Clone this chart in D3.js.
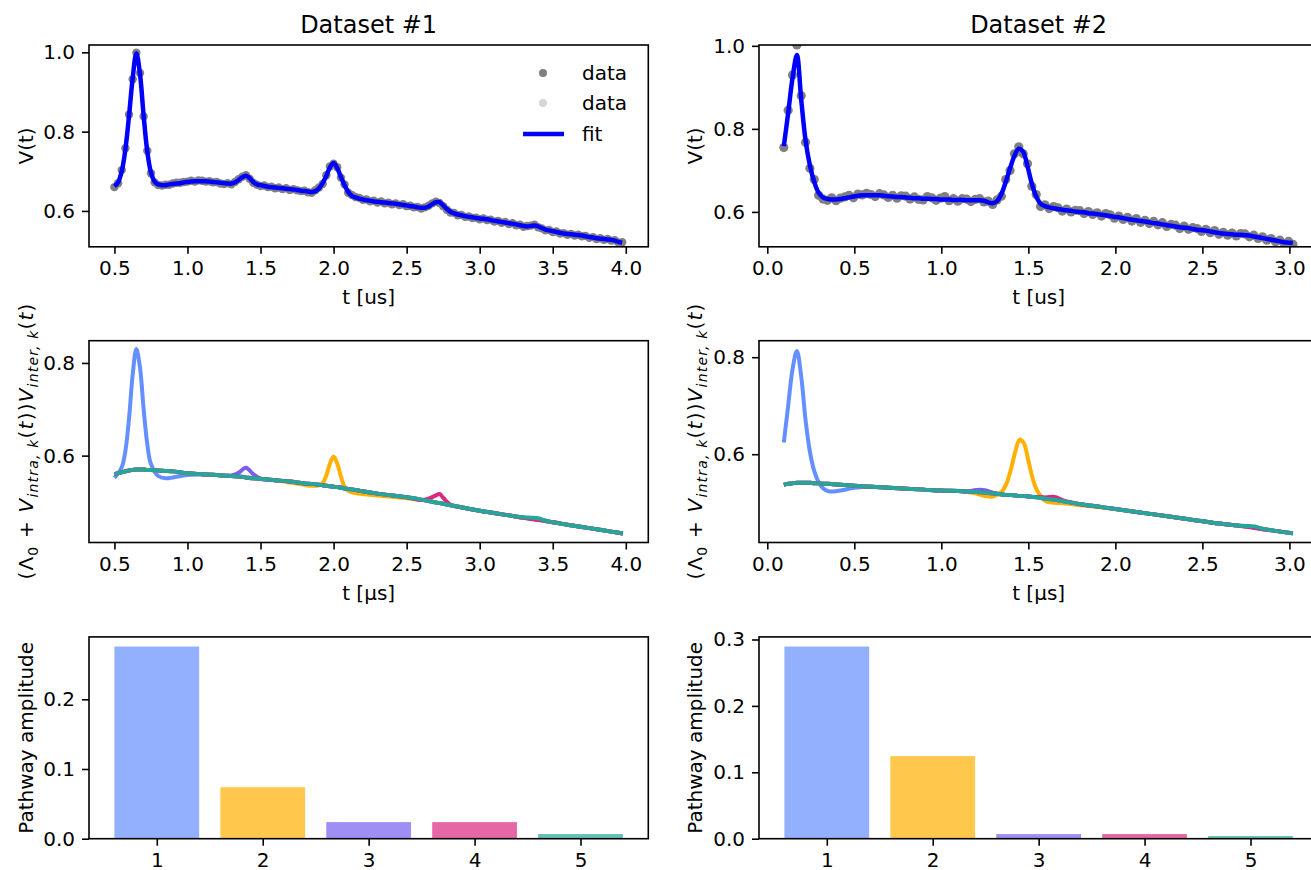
<!DOCTYPE html>
<html>
<head>
<meta charset="utf-8">
<script src="https://cdn.jsdelivr.net/npm/d3@7"></script>
<style>
  body { margin: 0; background: #fff; }
  svg { display: block; font-family: "DejaVu Sans", sans-serif; }
  .tick text { font-size: 20px; fill: #000; }
  .tick line { stroke: #000; stroke-width: 1.6; }
</style>
</head>
<body>
<svg id="fig" width="1311" height="870"></svg>
<script>
// ---- dataset #1 : measured trace (uniform sampling) and fit ----
const t1Start = 0.5, t1Step = 0.025;
const data1 = [
  0.660,0.670,0.703,0.758,0.843,0.932,0.999,0.948,0.838,0.752,
  0.695,0.672,0.665,0.664,0.666,0.666,0.669,0.671,0.671,0.673,
  0.674,0.676,0.674,0.677,0.676,0.674,0.675,0.672,0.673,0.669,
  0.668,0.670,0.667,0.673,0.680,0.686,0.690,0.681,0.671,0.666,
  0.663,0.664,0.660,0.661,0.657,0.659,0.655,0.657,0.653,0.655,
  0.652,0.650,0.651,0.647,0.646,0.652,0.659,0.668,0.690,0.712,
  0.719,0.710,0.684,0.667,0.646,0.640,0.635,0.633,0.628,0.629,
  0.624,0.626,0.621,0.624,0.619,0.621,0.617,0.619,0.615,0.617,
  0.612,0.613,0.609,0.610,0.606,0.609,0.613,0.619,0.623,0.620,
  0.612,0.603,0.596,0.595,0.589,0.590,0.585,0.586,0.582,0.583,
  0.579,0.581,0.577,0.578,0.573,0.575,0.570,0.572,0.567,0.569,
  0.564,0.565,0.560,0.562,0.563,0.565,0.559,0.556,0.551,0.552,
  0.547,0.548,0.543,0.544,0.540,0.542,0.538,0.540,0.536,0.537,
  0.532,0.534,0.529,0.531,0.527,0.529,0.525,0.526,0.520,0.521
];
const fit1 = [
  0.662,0.672,0.700,0.755,0.840,0.935,0.998,0.945,0.840,0.750,
  0.697,0.674,0.667,0.665,0.665,0.667,0.668,0.669,0.670,0.672,
  0.673,0.674,0.675,0.675,0.675,0.675,0.674,0.673,0.672,0.671,
  0.670,0.669,0.669,0.672,0.678,0.685,0.689,0.683,0.673,0.667,
  0.665,0.663,0.661,0.660,0.659,0.658,0.657,0.656,0.655,0.654,
  0.653,0.651,0.650,0.649,0.648,0.650,0.657,0.670,0.688,0.710,
  0.721,0.708,0.686,0.665,0.648,0.638,0.634,0.631,0.629,0.627,
  0.626,0.624,0.623,0.622,0.621,0.620,0.619,0.618,0.617,0.615,
  0.614,0.612,0.611,0.609,0.608,0.608,0.611,0.617,0.622,0.622,
  0.614,0.605,0.598,0.594,0.591,0.589,0.587,0.585,0.584,0.582,
  0.581,0.580,0.579,0.577,0.575,0.574,0.572,0.571,0.569,0.568,
  0.566,0.564,0.562,0.561,0.562,0.563,0.561,0.557,0.553,0.551,
  0.549,0.547,0.545,0.543,0.542,0.541,0.540,0.539,0.538,0.536,
  0.534,0.533,0.531,0.530,0.529,0.528,0.527,0.525,0.522,0.520
];

// ---- dataset #2 ----
const t2Start = 0.095, t2Step = 0.025;
const data2 = [
  0.755,0.845,0.930,1.002,0.880,0.768,0.705,0.678,0.640,0.631,
  0.628,0.634,0.627,0.633,0.636,0.640,0.634,0.643,0.641,0.645,
  0.642,0.637,0.644,0.641,0.635,0.640,0.633,0.639,0.638,0.631,
  0.636,0.630,0.629,0.637,0.634,0.628,0.633,0.637,0.627,0.632,
  0.626,0.632,0.631,0.625,0.630,0.632,0.624,0.626,0.618,0.629,
  0.638,0.678,0.700,0.740,0.757,0.740,0.716,0.662,0.642,0.613,
  0.617,0.608,0.613,0.610,0.602,0.607,0.600,0.604,0.603,0.596,
  0.601,0.594,0.598,0.590,0.596,0.593,0.585,0.590,0.582,0.587,
  0.578,0.584,0.575,0.580,0.572,0.577,0.569,0.574,0.565,0.570,
  0.568,0.560,0.566,0.558,0.562,0.560,0.553,0.558,0.550,0.555,
  0.546,0.551,0.544,0.549,0.542,0.548,0.547,0.540,0.544,0.536,
  0.540,0.532,0.536,0.528,0.532,0.524,0.529,0.522
];
const fit2 = [
  0.758,0.838,0.922,0.978,0.870,0.772,0.712,0.672,0.646,0.635,
  0.631,0.630,0.630,0.631,0.633,0.635,0.637,0.639,0.640,0.640,
  0.640,0.640,0.640,0.639,0.638,0.637,0.636,0.636,0.635,0.634,
  0.633,0.633,0.632,0.632,0.631,0.631,0.630,0.630,0.630,0.629,
  0.629,0.629,0.628,0.628,0.628,0.628,0.627,0.623,0.621,0.626,
  0.643,0.672,0.705,0.735,0.752,0.745,0.710,0.668,0.637,0.620,
  0.614,0.611,0.609,0.607,0.605,0.604,0.603,0.601,0.600,0.599,
  0.597,0.596,0.595,0.593,0.592,0.590,0.588,0.587,0.585,0.583,
  0.581,0.580,0.578,0.577,0.575,0.573,0.572,0.570,0.568,0.567,
  0.565,0.563,0.562,0.561,0.559,0.557,0.556,0.555,0.553,0.551,
  0.549,0.548,0.547,0.546,0.545,0.545,0.544,0.543,0.541,0.539,
  0.537,0.535,0.533,0.531,0.529,0.527,0.526,0.525
];

// ---- pathway contributions, dataset #1 ----
const tc1 = [
  0.50,0.55,0.575,0.60,0.625,0.65,0.675,0.70,0.725,0.75,
  0.80,0.85,0.90,1.00,1.10,1.20,1.30,1.35,1.40,1.45,
  1.50,1.60,1.70,1.80,1.85,1.90,1.925,1.95,1.975,2.00,
  2.025,2.05,2.075,2.10,2.15,2.20,2.30,2.40,2.50,2.60,
  2.65,2.70,2.725,2.75,2.80,2.90,3.00,3.10,3.20,3.30,
  3.35,3.40,3.45,3.50,3.60,3.70,3.80,3.90,3.98
];
const p1k1 = [
  0.552,0.575,0.610,0.680,0.775,0.830,0.790,0.700,0.625,0.582,
  0.556,0.551,0.553,0.558,0.559,0.558,0.556,0.555,0.553,0.551,
  0.550,0.547,0.544,0.540,0.539,0.537,0.536,0.535,0.534,0.533,
  0.532,0.531,0.529,0.528,0.526,0.523,0.518,0.514,0.510,0.505,
  0.502,0.499,0.4975,0.496,0.493,0.487,0.481,0.476,0.471,0.466,
  0.464,0.462,0.459,0.456,0.451,0.446,0.441,0.436,0.432
];
const p1k2 = [
  0.560,0.564,0.566,0.568,0.569,0.570,0.570,0.570,0.569,0.569,
  0.568,0.567,0.566,0.562,0.560,0.558,0.556,0.555,0.553,0.551,
  0.550,0.547,0.542,0.537,0.535,0.536,0.541,0.557,0.583,0.598,
  0.583,0.555,0.533,0.524,0.519,0.517,0.514,0.511,0.508,0.505,
  0.502,0.499,0.4975,0.496,0.493,0.487,0.481,0.476,0.471,0.466,
  0.464,0.462,0.459,0.456,0.451,0.446,0.441,0.436,0.432
];
const p1k3 = [
  0.560,0.564,0.566,0.568,0.569,0.570,0.570,0.570,0.569,0.569,
  0.568,0.567,0.566,0.562,0.560,0.558,0.557,0.563,0.574,0.560,
  0.550,0.547,0.544,0.540,0.539,0.537,0.536,0.535,0.534,0.533,
  0.532,0.531,0.529,0.528,0.526,0.523,0.518,0.514,0.510,0.505,
  0.502,0.499,0.4975,0.496,0.493,0.487,0.481,0.476,0.471,0.466,
  0.464,0.462,0.459,0.456,0.451,0.446,0.441,0.436,0.432
];
const p1k4 = [
  0.560,0.564,0.566,0.568,0.569,0.570,0.570,0.570,0.569,0.569,
  0.568,0.567,0.566,0.562,0.560,0.558,0.556,0.555,0.553,0.551,
  0.550,0.547,0.544,0.540,0.539,0.537,0.536,0.535,0.534,0.533,
  0.532,0.531,0.529,0.528,0.526,0.523,0.518,0.514,0.510,0.504,
  0.507,0.514,0.517,0.509,0.494,0.487,0.481,0.476,0.471,0.466,
  0.463,0.461,0.459,0.456,0.451,0.446,0.441,0.436,0.432
];
const p1k5 = [
  0.560,0.564,0.566,0.568,0.569,0.570,0.570,0.570,0.569,0.569,
  0.568,0.567,0.566,0.562,0.560,0.558,0.556,0.555,0.553,0.551,
  0.550,0.547,0.544,0.540,0.539,0.537,0.536,0.535,0.534,0.533,
  0.532,0.531,0.529,0.528,0.526,0.523,0.518,0.514,0.510,0.505,
  0.502,0.499,0.4975,0.496,0.493,0.487,0.481,0.476,0.471,0.467,
  0.466,0.465,0.460,0.456,0.451,0.446,0.441,0.436,0.432
];

// ---- pathway contributions, dataset #2 ----
const tc2 = [
  0.095,0.12,0.145,0.17,0.195,0.22,0.245,0.27,0.295,0.32,
  0.35,0.38,0.42,0.50,0.60,0.70,0.80,0.90,1.00,1.10,
  1.15,1.20,1.25,1.30,1.35,1.375,1.40,1.425,1.45,1.475,
  1.50,1.525,1.55,1.60,1.65,1.70,1.80,1.90,2.00,2.20,
  2.40,2.60,2.70,2.75,2.80,2.85,2.90,3.02
];
const p2k1 = [
  0.624,0.700,0.775,0.813,0.760,0.670,0.605,0.565,0.542,0.530,
  0.524,0.523,0.525,0.531,0.533,0.531,0.529,0.527,0.525,0.524,
  0.523,0.522,0.521,0.519,0.517,0.516,0.516,0.515,0.514,0.514,
  0.513,0.512,0.511,0.508,0.506,0.503,0.497,0.492,0.487,0.477,
  0.467,0.457,0.453,0.451,0.449,0.446,0.443,0.437
];
const p2k2 = [
  0.537,0.539,0.540,0.541,0.541,0.541,0.541,0.540,0.540,0.539,
  0.539,0.538,0.537,0.535,0.533,0.531,0.529,0.527,0.525,0.524,
  0.522,0.519,0.514,0.513,0.524,0.540,0.569,0.605,0.630,0.622,
  0.587,0.550,0.525,0.503,0.500,0.499,0.495,0.491,0.487,0.477,
  0.467,0.457,0.453,0.451,0.449,0.446,0.443,0.437
];
const p2k3 = [
  0.537,0.539,0.540,0.541,0.541,0.541,0.541,0.540,0.540,0.539,
  0.539,0.538,0.537,0.535,0.533,0.531,0.529,0.527,0.525,0.524,
  0.523,0.526,0.526,0.520,0.517,0.516,0.516,0.515,0.514,0.514,
  0.513,0.512,0.511,0.508,0.506,0.503,0.497,0.492,0.487,0.477,
  0.467,0.457,0.453,0.451,0.449,0.446,0.443,0.437
];
const p2k4 = [
  0.537,0.539,0.540,0.541,0.541,0.541,0.541,0.540,0.540,0.539,
  0.539,0.538,0.537,0.535,0.533,0.531,0.529,0.527,0.525,0.524,
  0.523,0.522,0.521,0.519,0.517,0.516,0.516,0.515,0.514,0.514,
  0.513,0.512,0.512,0.511,0.512,0.505,0.497,0.492,0.487,0.477,
  0.467,0.457,0.453,0.451,0.448,0.445,0.443,0.437
];
const p2k5 = [
  0.537,0.539,0.540,0.541,0.541,0.541,0.541,0.540,0.540,0.539,
  0.539,0.538,0.537,0.535,0.533,0.531,0.529,0.527,0.525,0.524,
  0.523,0.522,0.521,0.519,0.517,0.516,0.516,0.515,0.514,0.514,
  0.513,0.512,0.511,0.508,0.506,0.503,0.497,0.492,0.487,0.477,
  0.467,0.457,0.453,0.452,0.451,0.446,0.443,0.437
];

// ---- pathway amplitudes ----
const pathways = [1, 2, 3, 4, 5];
const amp1 = [0.2757, 0.0739, 0.0238, 0.0238, 0.0067];
const amp2 = [0.2894, 0.1244, 0.0070, 0.0070, 0.0040];

const titles = ["Dataset #1", "Dataset #2"];
const pathColors = ["#648fff", "#ffb000", "#785ef0", "#dc267f", "#26a69a"];

const svg = d3.select("#fig");
const W = 559.3, H = 201.8;
const colX = [89, 759], rowY = [45, 340.7, 636.9];
let clipN = 0;

// builds one axes box, returns the clipped group to draw into
function axes(x, y, xTicks, yTicks, xFmt, yFmt) {
  const [xl, xr] = x.range(), [yb, yt] = y.range();
  const id = "clip" + (clipN++);
  svg.append("clipPath").attr("id", id).append("rect")
    .attr("x", xl).attr("y", yt).attr("width", xr - xl).attr("height", yb - yt);
  const plot = svg.append("g").attr("clip-path", `url(#${id})`);
  svg.append("g")
    .attr("transform", `translate(0,${yb})`)
    .call(d3.axisBottom(x).tickValues(xTicks).tickFormat(xFmt).tickSize(7).tickPadding(7))
    .call(g => g.select(".domain").remove());
  svg.append("g")
    .attr("transform", `translate(${xl},0)`)
    .call(d3.axisLeft(y).tickValues(yTicks).tickFormat(yFmt).tickSize(7).tickPadding(7))
    .call(g => g.select(".domain").remove());
  svg.append("rect")
    .attr("x", xl).attr("y", yt).attr("width", xr - xl).attr("height", yb - yt)
    .attr("fill", "none").attr("stroke", "#000").attr("stroke-width", 1.6);
  return plot;
}

function ylabel(x, yMid, text) {
  return svg.append("text")
    .attr("transform", `translate(${x},${yMid}) rotate(-90)`)
    .attr("text-anchor", "middle")
    .attr("font-size", 20)
    .text(text);
}

const f1 = d3.format(".1f");
const sets = [
  { x: d3.scaleLinear().domain([0.326, 4.154]).range([colX[0], colX[0] + W]),
    yTop: d3.scaleLinear().domain([0.5095, 1.0185]).range([rowY[0] + H, rowY[0]]),
    yMid: d3.scaleLinear().domain([0.4125, 0.848]).range([rowY[1] + H, rowY[1]]),
    yBar: d3.scaleLinear().domain([0, 0.2895]).range([rowY[2] + H, rowY[2]]),
    xTicks: [0.5, 1.0, 1.5, 2.0, 2.5, 3.0, 3.5, 4.0],
    barTicks: [0.0, 0.1, 0.2],
    t0: t1Start, dt: t1Step, data: data1, fit: fit1, r: 4.2,
    tc: tc1, comps: [p1k1, p1k2, p1k3, p1k4, p1k5], amp: amp1 },
  { x: d3.scaleLinear().domain([-0.0476, 3.166]).range([colX[1], colX[1] + W]),
    yTop: d3.scaleLinear().domain([0.516, 1.002]).range([rowY[0] + H, rowY[0]]),
    yMid: d3.scaleLinear().domain([0.418, 0.834]).range([rowY[1] + H, rowY[1]]),
    yBar: d3.scaleLinear().domain([0, 0.3039]).range([rowY[2] + H, rowY[2]]),
    xTicks: [0.0, 0.5, 1.0, 1.5, 2.0, 2.5, 3.0],
    barTicks: [0.0, 0.1, 0.2, 0.3],
    t0: t2Start, dt: t2Step, data: data2, fit: fit2, r: 4.6,
    tc: tc2, comps: [p2k1, p2k2, p2k3, p2k4, p2k5], amp: amp2 }
];

sets.forEach((s, c) => {
  const cx = colX[c] + W / 2;
  const labX = c === 0 ? 33 : 702;

  // --- row 1: data + fit ---
  const p1 = axes(s.x, s.yTop, s.xTicks, [0.6, 0.8, 1.0], f1, f1);
  p1.selectAll("circle").data(s.data).join("circle")
    .attr("cx", (d, i) => s.x(s.t0 + i * s.dt))
    .attr("cy", d => s.yTop(d))
    .attr("r", s.r)
    .attr("fill", "gray");
  p1.append("path")
    .datum(s.fit)
    .attr("fill", "none").attr("stroke", "#0000ff").attr("stroke-width", 4.5)
    .attr("stroke-linejoin", "round")
    .attr("d", d3.line().x((d, i) => s.x(s.t0 + i * s.dt)).y(d => s.yTop(d)).curve(d3.curveCatmullRom));
  svg.append("text").attr("x", cx).attr("y", 33).attr("text-anchor", "middle")
    .attr("font-size", 24).text(titles[c]);
  svg.append("text").attr("x", cx).attr("y", 304).attr("text-anchor", "middle")
    .attr("font-size", 20).text("t [us]");
  ylabel(labX, rowY[0] + H / 2, "V(t)");

  // --- row 2: pathway contributions ---
  const p2 = axes(s.x, s.yMid, s.xTicks, [0.6, 0.8], f1, f1);
  const line = d3.line().x((d, i) => s.x(s.tc[i])).y(d => s.yMid(d)).curve(d3.curveCatmullRom);
  p2.selectAll("path").data(s.comps).join("path")
    .attr("fill", "none")
    .attr("stroke", (d, k) => pathColors[k])
    .attr("stroke-width", 4)
    .attr("stroke-linejoin", "round")
    .attr("d", line);
  svg.append("text").attr("x", cx).attr("y", 600).attr("text-anchor", "middle")
    .attr("font-size", 20).text("t [μs]");
  const ml = svg.append("text")
    .attr("transform", `translate(${labX},${rowY[1] + H / 2}) rotate(-90)`)
    .attr("text-anchor", "middle").attr("font-size", 20)
    .attr("textLength", 276).attr("lengthAdjust", "spacing");
  const parts = [
    ["(", 0, null], ["Λ", 0, null], ["0", 5, "s"], [" + ", -5, null],
    ["V", 0, "i"], ["intra, k", 5, "si"], ["(", -5, null], ["t", 0, "i"], ["))", 0, null],
    ["V", 0, "i"], ["inter, k", 5, "si"], ["(", -5, null], ["t", 0, "i"], [")", 0, null]
  ];
  parts.forEach(([txt, dy, st]) => {
    const ts = ml.append("tspan").attr("dy", dy).text(txt);
    if (st && st.includes("i")) ts.attr("font-style", "italic");
    if (st && st.includes("s")) ts.attr("font-size", 14);
  });

  // --- row 3: pathway amplitudes ---
  const xb = d3.scaleLinear().domain([0.36, 5.64]).range([colX[c], colX[c] + W]);
  const p3 = axes(xb, s.yBar, pathways, s.barTicks, d => d, f1);
  p3.selectAll("rect").data(s.amp).join("rect")
    .attr("x", (d, i) => xb(pathways[i] - 0.4))
    .attr("width", xb(1.4) - xb(0.6))
    .attr("y", d => s.yBar(d))
    .attr("height", d => s.yBar(0) - s.yBar(d))
    .attr("fill", (d, i) => pathColors[i])
    .attr("fill-opacity", 0.7);
  ylabel(labX, rowY[2] + H / 2, "Pathway amplitude");
});

// legend of the first panel
const lg = svg.append("g").attr("font-size", 20);
lg.append("circle").attr("cx", 543).attr("cy", 73).attr("r", 4).attr("fill", "gray");
lg.append("circle").attr("cx", 543).attr("cy", 103).attr("r", 4).attr("fill", "#d6d6d6");
lg.append("line").attr("x1", 523).attr("x2", 564).attr("y1", 134).attr("y2", 134)
  .attr("stroke", "#0000ff").attr("stroke-width", 4.5);
[["data", 73], ["data", 103], ["fit", 134]].forEach(([t, y]) =>
  lg.append("text").attr("x", 582).attr("y", y).attr("dy", "0.35em").text(t));

svg.selectAll(".tick text").attr("font-family", "DejaVu Sans, sans-serif");
</script>
</body>
</html>
